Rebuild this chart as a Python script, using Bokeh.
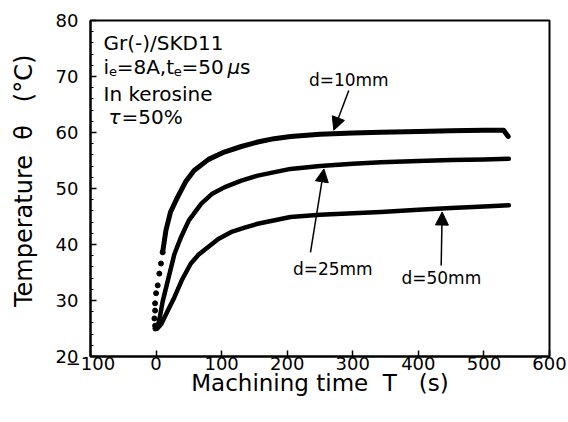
from bokeh.plotting import figure
from bokeh.models import Label, Arrow, NormalHead, SingleIntervalTicker, Range1d
from bokeh.embed import file_html
from bokeh.resources import INLINE

# ---------------- data ----------------
t10 = [-1, -1.5, -2.5, -1.5, -1.5, 0, 2.5, 5, 7.5, 10, 15, 22, 33, 45, 58, 80, 104, 130,
       155, 180, 205, 250, 300, 343, 400, 450, 500, 530, 537]
T10 = [25.0, 25.5, 26.8, 28.2, 29.5, 31.3, 32.7, 34.8, 36.6, 38.6, 42.5, 45.8, 48.5, 51.2,
       53.2, 55.2, 56.5, 57.5, 58.3, 58.9, 59.3, 59.7, 59.9, 60.05, 60.2, 60.3, 60.4, 60.4, 59.3]
n_dots10 = 10  # sparse samples at the start of d=10

t25 = [0, 3, 6, 10, 18, 28, 38, 50, 69, 85, 104, 130, 155, 205, 250, 300, 343, 400, 450, 500, 538]
T25 = [25.0, 25.6, 27.2, 29.8, 33.6, 38.3, 41.3, 44.3, 47.3, 49.0, 50.2, 51.4, 52.3, 53.5,
       54.0, 54.4, 54.7, 54.9, 55.1, 55.2, 55.3]

t50 = [2, 8, 13, 20, 28, 40, 53, 65, 79, 95, 114, 135, 155, 205, 250, 300, 343, 400, 450, 500, 538]
T50 = [25.0, 25.8, 27.0, 28.7, 30.6, 33.8, 36.6, 38.2, 39.5, 41.0, 42.2, 43.0, 43.7, 44.9,
       45.3, 45.6, 45.8, 46.2, 46.5, 46.8, 47.0]

series_labels = ["d=10mm", "d=25mm", "d=50mm"]
label_xy = [(293.9, 68.2), (269.5, 34.46), (435.0, 32.7)]
arrow_tail = [(293.9, 67.5), (235.5, 38.6), (434.8, 36.25)]
arrow_tip = [(271.0, 60.4), (256.0, 53.5), (436.3, 45.8)]

NB = "\u00a0"
x_title = "Machining time" + NB * 2 + "T" + NB * 3 + "(s)"
y_title = NB * 2 + "Temperature" + NB * 2 + "θ" + NB * 3 + "(°C)"

FONT = "DejaVu Sans"
YO = 7  # baseline correction for labels

p = figure(width=568, height=422, x_range=Range1d(-100, 600), y_range=Range1d(20, 80),
           output_backend="svg", toolbar_location=None,
           min_border_left=90, min_border_right=19, min_border_top=20, min_border_bottom=66)
p.background_fill_color = "white"
p.border_fill_color = "white"
p.xgrid.visible = False
p.ygrid.visible = False
p.outline_line_color = "black"
p.outline_line_width = 2
p.outline_line_alpha = 1.0

p.xaxis.ticker = SingleIntervalTicker(interval=100, num_minor_ticks=0)
p.yaxis.ticker = SingleIntervalTicker(interval=10, num_minor_ticks=5)
for ax in (p.xaxis, p.yaxis):
    ax.axis_line_color = "black"
    ax.axis_line_width = 2
    ax.major_tick_line_color = "black"
    ax.major_tick_line_width = 1.5
    ax.major_tick_in = 6
    ax.major_tick_out = 0
    ax.minor_tick_line_color = "black"
    ax.minor_tick_line_width = 1.2
    ax.minor_tick_in = 3
    ax.minor_tick_out = 0
    ax.major_label_text_font = FONT
    ax.major_label_text_font_size = "18px"
    ax.major_label_text_color = "black"
    ax.axis_label_text_font = FONT
    ax.axis_label_text_font_style = "normal"
    ax.axis_label_text_color = "black"
p.xaxis.axis_label_text_font_size = "23px"
p.yaxis.axis_label_text_font_size = "24px"
p.xaxis.minor_tick_line_color = None
p.xaxis.major_label_standoff = 0
p.xaxis.axis_label_standoff = -3
p.yaxis.major_label_standoff = 12
p.yaxis.axis_label_standoff = 15
p.xaxis.axis_label = x_title
p.yaxis.axis_label = y_title

# curves
p.line(t10[n_dots10 - 1:], T10[n_dots10 - 1:], line_color="black", line_width=5,
       line_join="round", line_cap="round")
p.scatter(t10[:n_dots10], T10[:n_dots10], size=5, marker="circle",
          fill_color="black", line_color="black")
p.line(t25, T25, line_color="black", line_width=4.5, line_join="round", line_cap="round")
p.line(t50, T50, line_color="black", line_width=4.5, line_join="round", line_cap="round")

# arrows + labels
for (lx, ly), (ax_, ay), (bx, by), txt in zip(label_xy, arrow_tail, arrow_tip, series_labels):
    p.add_layout(Arrow(end=NormalHead(size=13, fill_color="black", line_color="black"),
                       x_start=ax_, y_start=ay, x_end=bx, y_end=by,
                       line_color="black", line_width=1.5))
    p.add_layout(Label(x=lx, y=ly, text=txt, text_font=FONT, text_font_size="17px",
                       y_offset=YO, text_align="center", text_baseline="alphabetic",
                       text_color="black"))

# condition text block
bx0 = -80.2
rows_y = [74.8, 70.36, 65.7, 61.6]

def lab(x, y, text, size="20px", xo=0, yo=0, style="normal"):
    p.add_layout(Label(x=x, y=y, text=text, x_offset=xo, y_offset=yo + YO, text_font=FONT,
                       text_font_size=size, text_font_style=style, text_align="left",
                       text_baseline="alphabetic", text_color="black"))

lab(bx0, rows_y[0], "Gr(-)/SKD11")
lab(bx0, rows_y[1], "i")
lab(bx0, rows_y[1], "e", size="13px", xo=5.6, yo=-4)
lab(bx0, rows_y[1], "=8A,t", xo=13.2)
lab(bx0, rows_y[1], "e", size="13px", xo=70.2, yo=-4)
lab(bx0, rows_y[1], "=50" + NB, xo=78.0)
lab(bx0, rows_y[1], "μ", xo=124.0, style="italic")
lab(bx0, rows_y[1], "s", xo=136.5)
lab(bx0, rows_y[2], "In kerosine")
lab(-72.6, rows_y[3], "τ", style="italic")
lab(-72.6, rows_y[3], "=50%", xo=13)

open("out.html", "w").write(file_html(p, INLINE))
